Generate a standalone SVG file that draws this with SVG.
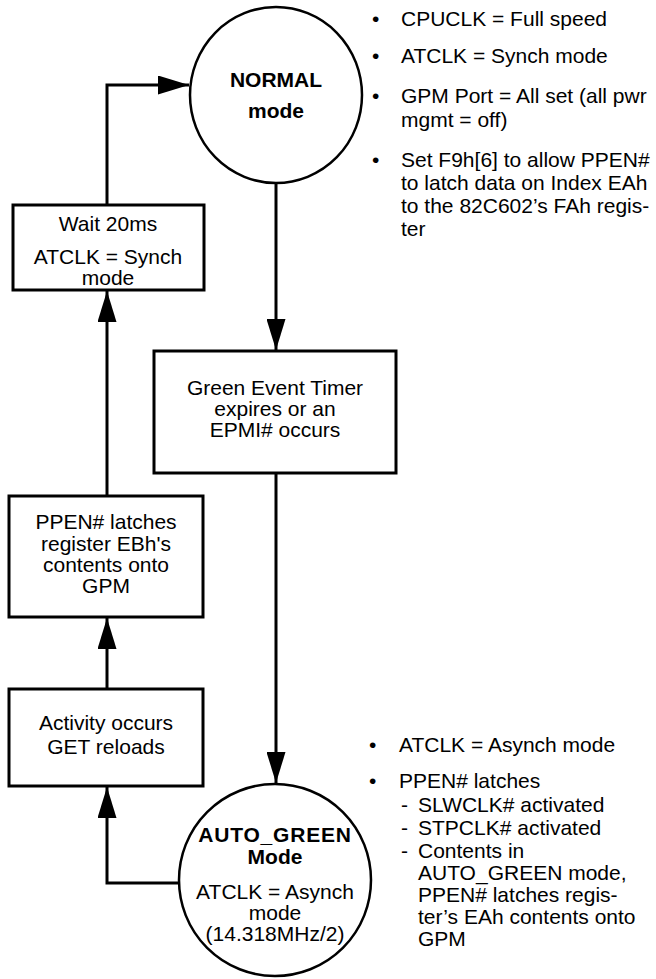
<svg xmlns="http://www.w3.org/2000/svg" width="656" height="979" viewBox="0 0 656 979">
<style>
  .bg{fill:#fff}
  .box{fill:#fff;stroke:#000;stroke-width:3}
  .circ{fill:#fff;stroke:#000;stroke-width:2.5}
  .line{fill:none;stroke:#000;stroke-width:3}
  .t{font-family:"Liberation Sans",Arial,Helvetica,sans-serif;font-size:21px;fill:#000}
  .c{text-anchor:middle}
  .b{font-weight:bold}
</style>
<defs>
  <marker id="arr" viewBox="0 0 31 19" refX="31" refY="9.5" markerWidth="31" markerHeight="19" markerUnits="userSpaceOnUse" orient="auto">
    <path d="M0,0 L31,9.5 L0,19 Z" fill="#000"/>
  </marker>
</defs>
<rect class="bg" x="0" y="0" width="656" height="979"/>

<g id="connectors">
  <path class="line" d="M107,205 V85 H189" marker-end="url(#arr)"/>
  <path class="line" d="M276,183 V350" marker-end="url(#arr)"/>
  <path class="line" d="M276,473 V783" marker-end="url(#arr)"/>
  <path class="line" d="M179,883 H107 V787" marker-end="url(#arr)"/>
  <path class="line" d="M107,689 V618" marker-end="url(#arr)"/>
  <path class="line" d="M107,496 V291" marker-end="url(#arr)"/>
</g>

<g id="normal">
  <ellipse class="circ" cx="276" cy="95" rx="86" ry="88"/>
  <text class="t c b" x="276" y="87">NORMAL</text>
  <text class="t c b" x="276" y="118">mode</text>
</g>

<g id="wait">
  <rect class="box" x="13" y="205" width="191" height="85"/>
  <text class="t c" x="108" y="231">Wait 20ms</text>
  <text class="t c" x="108" y="264">ATCLK = Synch</text>
  <text class="t c" x="108" y="285">mode</text>
</g>

<g id="green-event">
  <rect class="box" x="154" y="351" width="242" height="122"/>
  <text class="t c" x="275" y="395">Green Event Timer</text>
  <text class="t c" x="275" y="416">expires or an</text>
  <text class="t c" x="275" y="437">EPMI# occurs</text>
</g>

<g id="ppen">
  <rect class="box" x="9" y="496" width="194" height="121"/>
  <text class="t c" x="106" y="529">PPEN# latches</text>
  <text class="t c" x="106" y="551">register EBh's</text>
  <text class="t c" x="106" y="572">contents onto</text>
  <text class="t c" x="106" y="593">GPM</text>
</g>

<g id="activity">
  <rect class="box" x="9" y="689" width="194" height="97"/>
  <text class="t c" x="106" y="730">Activity occurs</text>
  <text class="t c" x="106" y="754">GET reloads</text>
</g>

<g id="auto-green">
  <ellipse class="circ" cx="275" cy="880" rx="96" ry="96"/>
  <text class="t c b" x="275" y="842" letter-spacing="0.8">AUTO_GREEN</text>
  <text class="t c b" x="275" y="864">Mode</text>
  <text class="t c" x="275" y="899">ATCLK = Asynch</text>
  <text class="t c" x="275" y="920">mode</text>
  <text class="t c" x="275" y="941">(14.318MHz/2)</text>
</g>

<g id="normal-notes">
  <text class="t" x="372" y="26">•</text>
  <text class="t" x="401" y="26">CPUCLK = Full speed</text>
  <text class="t" x="372" y="63">•</text>
  <text class="t" x="401" y="63">ATCLK = Synch mode</text>
  <text class="t" x="372" y="103">•</text>
  <text class="t" x="401" y="103">GPM Port = All set (all pwr</text>
  <text class="t" x="401" y="127">mgmt = off)</text>
  <text class="t" x="372" y="167">•</text>
  <text class="t" x="401" y="167">Set F9h[6] to allow PPEN#</text>
  <text class="t" x="401" y="190">to latch data on Index EAh</text>
  <text class="t" x="401" y="213">to the 82C602’s FAh regis-</text>
  <text class="t" x="401" y="236">ter</text>
</g>

<g id="auto-green-notes">
  <text class="t" x="369" y="752">•</text>
  <text class="t" x="399" y="752">ATCLK = Asynch mode</text>
  <text class="t" x="369" y="788">•</text>
  <text class="t" x="399" y="788">PPEN# latches</text>
  <text class="t" x="401" y="812">-</text>
  <text class="t" x="418" y="812">SLWCLK# activated</text>
  <text class="t" x="401" y="835">-</text>
  <text class="t" x="418" y="835">STPCLK# activated</text>
  <text class="t" x="401" y="858">-</text>
  <text class="t" x="418" y="858">Contents in</text>
  <text class="t" x="418" y="880">AUTO_GREEN mode,</text>
  <text class="t" x="418" y="902">PPEN# latches regis-</text>
  <text class="t" x="418" y="924">ter’s EAh contents onto</text>
  <text class="t" x="418" y="946">GPM</text>
</g>
</svg>
